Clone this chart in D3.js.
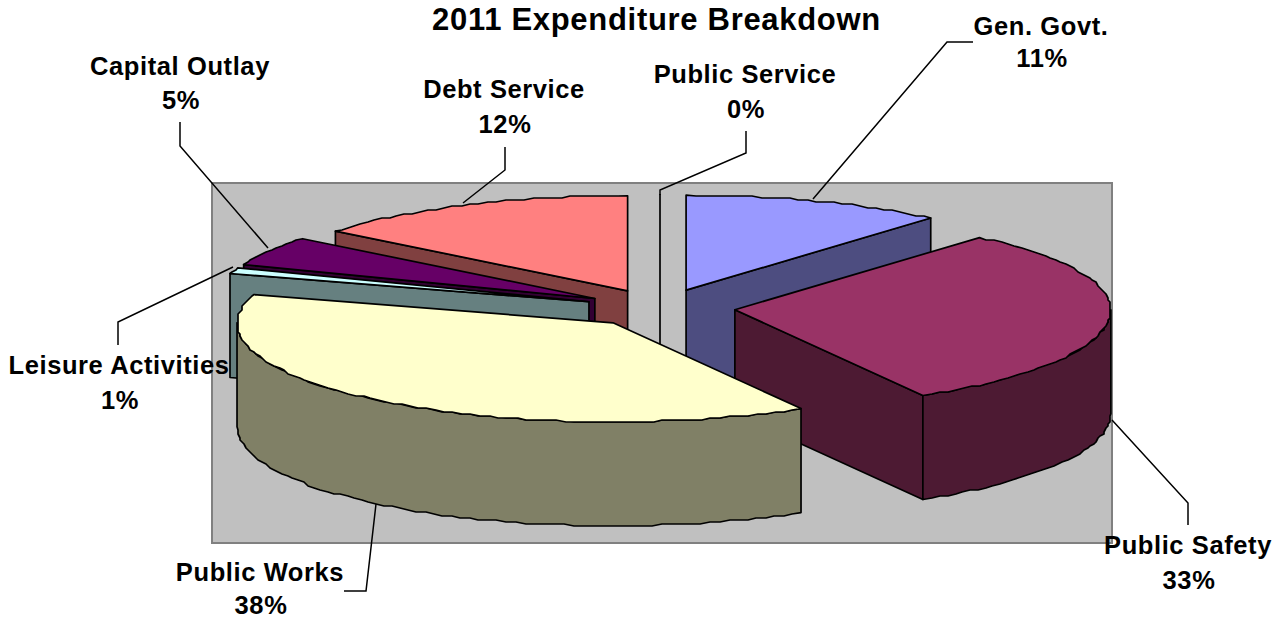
<!DOCTYPE html>
<html>
<head>
<meta charset="utf-8">
<title>2011 Expenditure Breakdown</title>
<script src="https://cdn.jsdelivr.net/npm/d3@7/dist/d3.min.js"></script>
<style>
  html, body { margin: 0; padding: 0; background: #fff; }
  svg { display: block; }
  text { font-family: "Liberation Sans", Arial, sans-serif; font-weight: bold; fill: #000; }
</style>
</head>
<body>
<svg id="chart" width="1287" height="619"></svg>
<script>
// Expenditure shares, percent of the 2011 total, in pie order from twelve o'clock
const categories = ["Gen. Govt.", "Public Safety", "Public Works", "Leisure Activities", "Capital Outlay", "Debt Service", "Public Service"];
const shares = [11, 33, 38, 1, 5, 12, 0];
const topColors = ["#9999ff", "#993366", "#ffffcc", "#ccffff", "#660066", "#ff8080", "#c0c0c0"];
const sideColors = ["#4d4d80", "#4d1a33", "#808066", "#668080", "#330033", "#804040", "#606060"];

// Back-to-front painting order for the exploded wedges
const paintOrder = ["Debt Service", "Gen. Govt.", "Public Service", "Capital Outlay", "Leisure Activities", "Public Safety", "Public Works"];

const layout = { cx: 660, cy: 308, rx: 376, ryBack: 95, ryFront: 99, depth: 104, explode: 0.2, snap: 2, step: 1.5 };

// Label anchors: centre x, name baseline, percentage baseline
const labelPlaces = {
  "Gen. Govt.": [1041, 35, 67],
  "Public Safety": [1188, 554, 589],
  "Public Works": [260, 581, 614],
  "Leisure Activities": [119, 374, 409],
  "Capital Outlay": [180, 75, 109],
  "Debt Service": [504, 98, 133],
  "Public Service": [745, 83, 118]
};
const leaders = {
  "Gen. Govt.": [[813, 199], [947, 42], [973, 42]],
  "Public Safety": [[1112, 420], [1188, 503], [1188, 525]],
  "Public Works": [[376, 504], [366, 591], [344, 591]],
  "Leisure Activities": [[233, 267], [118, 322], [118, 345]],
  "Capital Outlay": [[268, 248], [180, 146], [180, 122]],
  "Debt Service": [[463, 203], [505, 170], [505, 147]],
  "Public Service": [[660, 195], [660, 190], [746, 153], [746, 131]]
};

const svg = d3.select("#chart");
const rad = d => d * Math.PI / 180;

// Foreshortening of the tilted disc: pie angle to apparent angle on the ellipse
const apparent = d3.scaleLinear()
  .domain([0, 40, 158.4, 316.8, 360].map(rad))
  .range([0, 41, 150, 309, 360].map(rad));

const wedges = d3.pie().sort(null).value(d => d)(shares).map((arc, i) => {
  const a0 = apparent(arc.startAngle);
  const a1 = apparent(arc.endAngle);
  const mid = (a0 + a1) / 2;
  return {
    name: categories[i], a0, a1,
    top: topColors[i], side: sideColors[i],
    ox: layout.cx + layout.explode * layout.rx * Math.sin(mid),
    oy: layout.cy - layout.explode * layout.ryBack * Math.cos(mid)
  };
});

// The near half of the disc reads slightly deeper than the far half
const rimPoint = (w, a, dy) => {
  const c = Math.cos(a);
  return [
    w.ox + layout.rx * Math.sin(a),
    w.oy - (c >= 0 ? layout.ryBack : layout.ryFront) * c + dy
  ];
};

// The rim is a coarse polyline snapped to a device grid, which gives it its stepped edge
const snap = v => Math.round(v / layout.snap) * layout.snap;
function rim(w, from, to, dy) {
  const n = Math.max(1, Math.ceil(Math.abs(to - from) / rad(layout.step)));
  const pts = d3.range(n + 1).map(k => {
    const p = rimPoint(w, from + (to - from) * k / n, dy);
    return (k === 0 || k === n) ? p : [snap(p[0]), snap(p[1])];
  });
  return pts.filter((p, k) => k === 0 || p[0] !== pts[k - 1][0] || p[1] !== pts[k - 1][1]);
}

const line = d3.line();
const closed = pts => line(pts) + "Z";

// Chart wall behind the pie
const plotX = d3.scaleLinear().domain([0, 1]).range([212, 1112]);
const plotY = d3.scaleLinear().domain([0, 1]).range([183, 543]);
svg.append("rect")
  .attr("x", plotX(0)).attr("y", plotY(0))
  .attr("width", plotX(1) - plotX(0)).attr("height", plotY(1) - plotY(0))
  .attr("fill", "#c0c0c0").attr("stroke", "#808080").attr("stroke-width", 2);

const pieLayer = svg.append("g")
  .attr("stroke", "#000").attr("stroke-width", 1.7).attr("stroke-linejoin", "round");

paintOrder.forEach(name => {
  const w = wedges.find(d => d.name === name);
  const d = layout.depth;
  const apex = [w.ox, w.oy];
  const g = pieLayer.append("g").attr("class", "wedge");

  // A zero share collapses to a single upright line
  if (w.a1 - w.a0 < 1e-6) {
    const p = rimPoint(w, w.a0, 0);
    g.append("path").attr("fill", "none")
      .attr("d", line([p, [w.ox, w.oy], [w.ox, w.oy + d]]));
    return;
  }

  const wall = a => {
    const p = rimPoint(w, a, 0);
    g.append("path").attr("fill", w.side)
      .attr("d", closed([apex, p, [p[0], p[1] + d], [apex[0], apex[1] + d]]));
  };
  if (Math.sin(w.a0) < 0) wall(w.a0);
  if (Math.sin(w.a1) > 0.001) wall(w.a1);

  // Outer skin is visible only along the front half of the disc
  const f0 = Math.max(w.a0, Math.PI / 2);
  const f1 = Math.min(w.a1, 3 * Math.PI / 2);
  if (f1 > f0) {
    g.append("path").attr("fill", w.side)
      .attr("d", closed(rim(w, f0, f1, 0).concat(rim(w, f1, f0, d))));
  }

  g.append("path").attr("fill", w.top)
    .attr("d", closed([apex].concat(rim(w, w.a0, w.a1, 0))));
});

// Leader lines
svg.append("g").selectAll("path")
  .data(categories)
  .join("path")
  .attr("fill", "none").attr("stroke", "#000").attr("stroke-width", 1.5)
  .attr("d", d => line(leaders[d]));

// Category and percentage labels
const labels = svg.append("g").attr("text-anchor", "middle").attr("font-size", 25.5).attr("letter-spacing", 0.6);
categories.forEach((name, i) => {
  const [x, y0, y1] = labelPlaces[name];
  labels.append("text").attr("x", x).attr("y", y0).text(name);
  labels.append("text").attr("x", x + 1).attr("y", y1).text(shares[i] + "%");
});

svg.append("text")
  .attr("x", 656.5).attr("y", 30)
  .attr("text-anchor", "middle").attr("font-size", 31).attr("letter-spacing", 0.7)
  .text("2011 Expenditure Breakdown");
</script>
</body>
</html>
